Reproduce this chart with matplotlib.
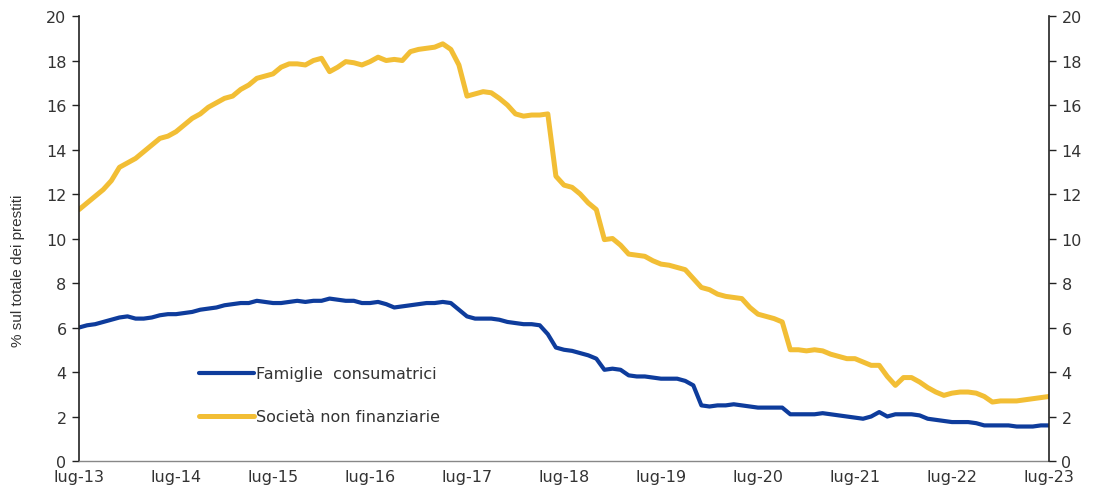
import matplotlib
matplotlib.use("Agg")
import matplotlib.pyplot as plt

# mesi da lug-13 a lug-23
etichette_x = ["lug-13", "lug-14", "lug-15", "lug-16", "lug-17", "lug-18",
               "lug-19", "lug-20", "lug-21", "lug-22", "lug-23"]

# Famiglie consumatrici, % sul totale dei prestiti (mensile)
famiglie = [
    6.0, 6.1, 6.15, 6.25, 6.35, 6.45, 6.5, 6.4, 6.4, 6.45, 6.55, 6.6,
    6.6, 6.65, 6.7, 6.8, 6.85, 6.9, 7.0, 7.05, 7.1, 7.1, 7.2, 7.15,
    7.1, 7.1, 7.15, 7.2, 7.15, 7.2, 7.2, 7.3, 7.25, 7.2, 7.2, 7.1,
    7.1, 7.15, 7.05, 6.9, 6.95, 7.0, 7.05, 7.1, 7.1, 7.15, 7.1, 6.8,
    6.5, 6.4, 6.4, 6.4, 6.35, 6.25, 6.2, 6.15, 6.15, 6.1, 5.7, 5.1,
    5.0, 4.95, 4.85, 4.75, 4.6, 4.1, 4.15, 4.1, 3.85, 3.8, 3.8, 3.75,
    3.7, 3.7, 3.7, 3.6, 3.4, 2.5, 2.45, 2.5, 2.5, 2.55, 2.5, 2.45,
    2.4, 2.4, 2.4, 2.4, 2.1, 2.1, 2.1, 2.1, 2.15, 2.1, 2.05, 2.0,
    1.95, 1.9, 2.0, 2.2, 2.0, 2.1, 2.1, 2.1, 2.05, 1.9, 1.85, 1.8,
    1.75, 1.75, 1.75, 1.7, 1.6, 1.6, 1.6, 1.6, 1.55, 1.55, 1.55, 1.6,
    1.6,
]

# Società non finanziarie
societa = [
    11.3, 11.6, 11.9, 12.2, 12.6, 13.2, 13.4, 13.6, 13.9, 14.2, 14.5, 14.6,
    14.8, 15.1, 15.4, 15.6, 15.9, 16.1, 16.3, 16.4, 16.7, 16.9, 17.2, 17.3,
    17.4, 17.7, 17.85, 17.85, 17.8, 18.0, 18.1, 17.5, 17.7, 17.95, 17.9, 17.8,
    17.95, 18.15, 18.0, 18.05, 18.0, 18.4, 18.5, 18.55, 18.6, 18.75, 18.5, 17.8,
    16.4, 16.5, 16.6, 16.55, 16.3, 16.0, 15.6, 15.5, 15.55, 15.55, 15.6, 12.8,
    12.4, 12.3, 12.0, 11.6, 11.3, 9.95, 10.0, 9.7, 9.3, 9.25, 9.2, 9.0,
    8.85, 8.8, 8.7, 8.6, 8.2, 7.8, 7.7, 7.5, 7.4, 7.35, 7.3, 6.9,
    6.6, 6.5, 6.4, 6.25, 5.0, 5.0, 4.95, 5.0, 4.95, 4.8, 4.7, 4.6,
    4.6, 4.45, 4.3, 4.3, 3.8, 3.4, 3.75, 3.75, 3.55, 3.3, 3.1, 2.95,
    3.05, 3.1, 3.1, 3.05, 2.9, 2.65, 2.7, 2.7, 2.7, 2.75, 2.8, 2.85,
    2.9,
]

mesi = list(range(len(famiglie)))
blu = "#0E3C9C"
giallo = "#F2BE35"
testo = "#333333"

fig = plt.figure(figsize=(10.93, 4.89), dpi=100)
ax = fig.add_axes([0.0723, 0.0552, 0.8874, 0.9100])

ax.plot(mesi, famiglie, color=blu, lw=3.0, solid_capstyle="round",
        label="Famiglie  consumatrici")
ax.plot(mesi, societa, color=giallo, lw=3.6, solid_capstyle="round",
        label="Società non finanziarie")

ax.set_xlim(0, 120)
ax.set_ylim(0, 20)
ax.set_yticks(range(0, 21, 2))
ax.set_xticks(range(0, 121, 12))
ax.set_xticklabels(etichette_x)

for s in ("top", "right"):
    ax.spines[s].set_visible(False)
ax.spines["left"].set_color("#222222")
ax.spines["left"].set_linewidth(1.2)
ax.spines["bottom"].set_color("#888888")
ax.spines["bottom"].set_linewidth(1.0)

ax.tick_params(axis="y", direction="out", length=5, width=1.0,
               colors="#222222", labelcolor=testo, labelsize=11.5, pad=4)
ax.tick_params(axis="x", length=0, labelcolor=testo, labelsize=11.5, pad=6)

ax.set_ylabel("% sul totale dei prestiti", fontsize=11, color=testo,
              family=["Liberation Sans Narrow", "Liberation Sans"])
ax.yaxis.set_label_coords(-0.056, 0.43)

# asse destro con la stessa scala
ax2 = ax.twinx()
ax2.set_ylim(0, 20)
ax2.set_yticks(range(0, 21, 2))
for s in ("top", "left", "bottom"):
    ax2.spines[s].set_visible(False)
ax2.spines["right"].set_color("#222222")
ax2.spines["right"].set_linewidth(1.2)
ax2.tick_params(axis="y", direction="out", length=5, width=1.0,
                colors="#222222", labelcolor=testo, labelsize=11.5, pad=4)

leg = ax.legend(loc="lower left", bbox_to_anchor=(0.109, 0.05),
                frameon=False, fontsize=11.5, handlelength=3.45,
                handletextpad=0.1, labelspacing=1.75)
for t in leg.get_texts():
    t.set_color(testo)

fig.savefig("out.png", dpi=100)
